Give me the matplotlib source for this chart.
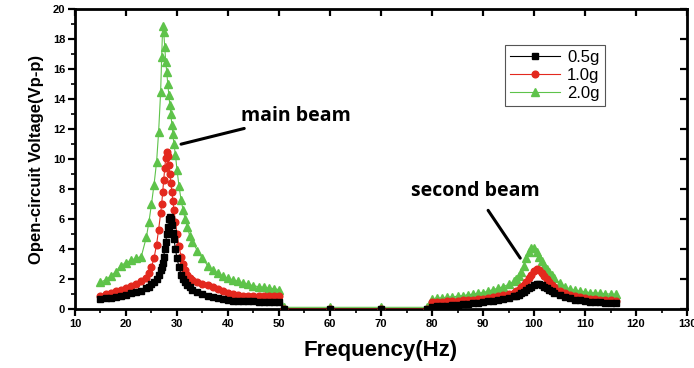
import matplotlib
matplotlib.use("Agg")
import matplotlib.pyplot as plt
from matplotlib.ticker import MultipleLocator

# frequency sweep (Hz): main-beam band, a few points in the gap, second-beam band
freq = [15, 16, 17, 18, 19, 20, 21, 22, 23, 24, 24.5, 25, 25.5, 26, 26.4, 26.8,
        27.0, 27.2, 27.4, 27.6, 27.8, 28.0, 28.2, 28.4, 28.6, 28.8, 29.0, 29.2, 29.4,
        29.7, 30.0, 30.4, 30.8, 31.2, 31.6, 32.0, 32.5,
        33, 34, 35, 36, 37, 38, 39, 40, 41, 42, 43, 44, 45, 46, 47, 48, 49, 50,
        51, 60, 70, 79,
        80, 81, 82, 83, 84, 85, 86, 87, 88, 89, 90, 91, 92, 93, 94, 95,
        96, 96.5, 97, 97.5, 98, 98.5, 99, 99.5, 100, 100.5, 101, 101.5, 102, 102.5, 103, 103.5,
        104, 105, 106, 107, 108, 109, 110, 111, 112, 113, 114, 115, 116]

# open-circuit voltage (Vp-p)
v_05g = [0.7, 0.72, 0.76, 0.82, 0.88, 0.95, 1.05, 1.12, 1.2, 1.4, 1.5, 1.65, 1.8, 2.0, 2.3, 2.6,
         2.8, 3.1, 3.5, 4.0, 4.5, 5.0, 5.5, 6.0, 6.15, 6.0, 5.6, 5.1, 4.7,
         4.0, 3.4, 2.8, 2.3, 2.0, 1.8, 1.6, 1.45,
         1.3, 1.15, 1.0, 0.9, 0.8, 0.72, 0.65, 0.6, 0.57, 0.55, 0.53, 0.52, 0.51, 0.5, 0.5, 0.5, 0.5, 0.5,
         0.0, 0.0, 0.0, 0.0,
         0.15, 0.18, 0.2, 0.23, 0.26, 0.29, 0.32, 0.36, 0.4, 0.44, 0.48, 0.52, 0.57, 0.62, 0.68, 0.75,
         0.85, 0.9, 0.97, 1.05, 1.15, 1.25, 1.38, 1.5, 1.62, 1.7, 1.68, 1.6, 1.5, 1.4, 1.3, 1.18,
         1.08, 0.92, 0.82, 0.72, 0.64, 0.58, 0.54, 0.5, 0.47, 0.45, 0.43, 0.41, 0.4]

v_10g = [0.9, 1.0, 1.1, 1.2, 1.3, 1.4, 1.55, 1.7, 1.85, 2.1, 2.4, 2.8, 3.4, 4.3, 5.3, 6.4,
         7.0, 7.8, 8.6, 9.4, 10.1, 10.5, 10.2, 9.6, 9.0, 8.4, 7.8, 7.2, 6.6,
         5.8, 5.0, 4.2, 3.5, 3.0, 2.6, 2.3, 2.1,
         1.95, 1.8, 1.7, 1.6, 1.5, 1.35, 1.2, 1.1, 1.0, 0.95, 0.9, 0.88, 0.86, 0.85, 0.85, 0.85, 0.85, 0.85,
         0.02, 0.02, 0.02, 0.02,
         0.45, 0.48, 0.5, 0.52, 0.54, 0.56, 0.58, 0.6, 0.63, 0.66, 0.7, 0.75, 0.8, 0.86, 0.93, 1.0,
         1.1, 1.2, 1.3, 1.45, 1.6, 1.8, 2.05, 2.3, 2.55, 2.68, 2.6, 2.4, 2.2, 2.0, 1.8, 1.6,
         1.45, 1.2, 1.05, 0.95, 0.85, 0.78, 0.72, 0.68, 0.65, 0.62, 0.6, 0.58, 0.57]

v_20g = [1.8, 1.95, 2.2, 2.5, 2.9, 3.1, 3.25, 3.4, 3.5, 4.8, 5.8, 7.0, 8.3, 9.8, 11.8, 14.5,
         16.8, 18.9, 18.5, 17.5, 16.5, 15.8, 15.0, 14.3, 13.6, 13.0, 12.3, 11.7, 11.0,
         10.3, 9.3, 8.2, 7.3, 6.6, 6.0, 5.5, 4.9,
         4.5, 3.9, 3.4, 2.9, 2.6, 2.4, 2.2, 2.05, 1.95, 1.85, 1.75, 1.65, 1.55, 1.5, 1.45, 1.4, 1.35, 1.3,
         0.12, 0.12, 0.12, 0.12,
         0.7, 0.72, 0.75, 0.78, 0.82, 0.86, 0.9, 0.95, 1.0, 1.05, 1.1, 1.2, 1.3, 1.4, 1.5, 1.65,
         1.85, 2.0, 2.2, 2.5, 2.9, 3.4, 3.8, 4.1, 4.05, 3.8, 3.5, 3.2, 2.9, 2.65, 2.45, 2.25,
         2.05, 1.75, 1.5, 1.35, 1.25, 1.2, 1.15, 1.1, 1.08, 1.05, 1.03, 1.0, 0.98]

labels = ["0.5g", "1.0g", "2.0g"]
colors = ["black", "#e3281e", "#5ec34a"]

fig = plt.figure(figsize=(6.94, 3.68), dpi=100)
ax = fig.add_axes([0.108, 0.16, 0.882, 0.815])

ax.plot(freq, v_05g, color=colors[0], lw=0.8, marker="s", ms=4.2, mec=colors[0], label=labels[0], zorder=4)
ax.plot(freq, v_10g, color=colors[1], lw=0.8, marker="o", ms=4.8, mec=colors[1], label=labels[1], zorder=3)
ax.plot(freq, v_20g, color=colors[2], lw=0.8, marker="^", ms=5.6, mec=colors[2], label=labels[2], zorder=2)

ax.set_xlim(10, 130)
ax.set_ylim(0, 20)
ax.xaxis.set_major_locator(MultipleLocator(10))
ax.xaxis.set_minor_locator(MultipleLocator(5))
ax.yaxis.set_major_locator(MultipleLocator(2))
ax.yaxis.set_minor_locator(MultipleLocator(1))
ax.tick_params(which="major", direction="out", length=5, width=1.6, labelsize=8, pad=2)
ax.tick_params(which="minor", direction="out", length=3, width=1.2)
for lab in ax.get_xticklabels() + ax.get_yticklabels():
    lab.set_fontfamily("Liberation Sans")
    lab.set_fontweight("bold")
for sp in ax.spines.values():
    sp.set_linewidth(2)

# mirrored axes, ticks inside
top = ax.secondary_xaxis("top")
top.xaxis.set_major_locator(MultipleLocator(10))
top.tick_params(direction="in", length=5, width=1.6, labeltop=False)
right = ax.secondary_yaxis("right")
right.yaxis.set_major_locator(MultipleLocator(2))
right.tick_params(direction="in", length=5, width=1.6, labelright=False)

ax.set_xlabel("Frequency(Hz)", fontsize=16, fontweight="bold", family="Liberation Sans", labelpad=8)
ax.set_ylabel("Open-circuit Voltage(Vp-p)", fontsize=12, fontweight="bold", family="Liberation Sans", labelpad=6)

ax.annotate("main beam", xy=(30.8, 11.0), xytext=(42.5, 12.9), fontsize=14, fontweight="bold",
            family="Open Sans", va="center", ha="left",
            arrowprops=dict(arrowstyle="-", lw=2.2, color="black", shrinkA=0, shrinkB=0))
ax.annotate("second beam", xy=(97.3, 3.4), xytext=(88.4, 7.9), fontsize=14, fontweight="bold",
            family="Open Sans", va="center", ha="center",
            arrowprops=dict(arrowstyle="-", lw=2.2, color="black", shrinkA=6, shrinkB=0))

leg = ax.legend(loc="upper right", bbox_to_anchor=(0.879, 0.91), fontsize=12, handlelength=3,
                numpoints=1, fancybox=False, edgecolor="#555555", framealpha=1,
                borderpad=0.3, labelspacing=0.2, handletextpad=0.4)
leg.get_frame().set_linewidth(0.8)
for t in leg.get_texts():
    t.set_fontfamily("Liberation Sans")

fig.savefig("out.png", dpi=100)
